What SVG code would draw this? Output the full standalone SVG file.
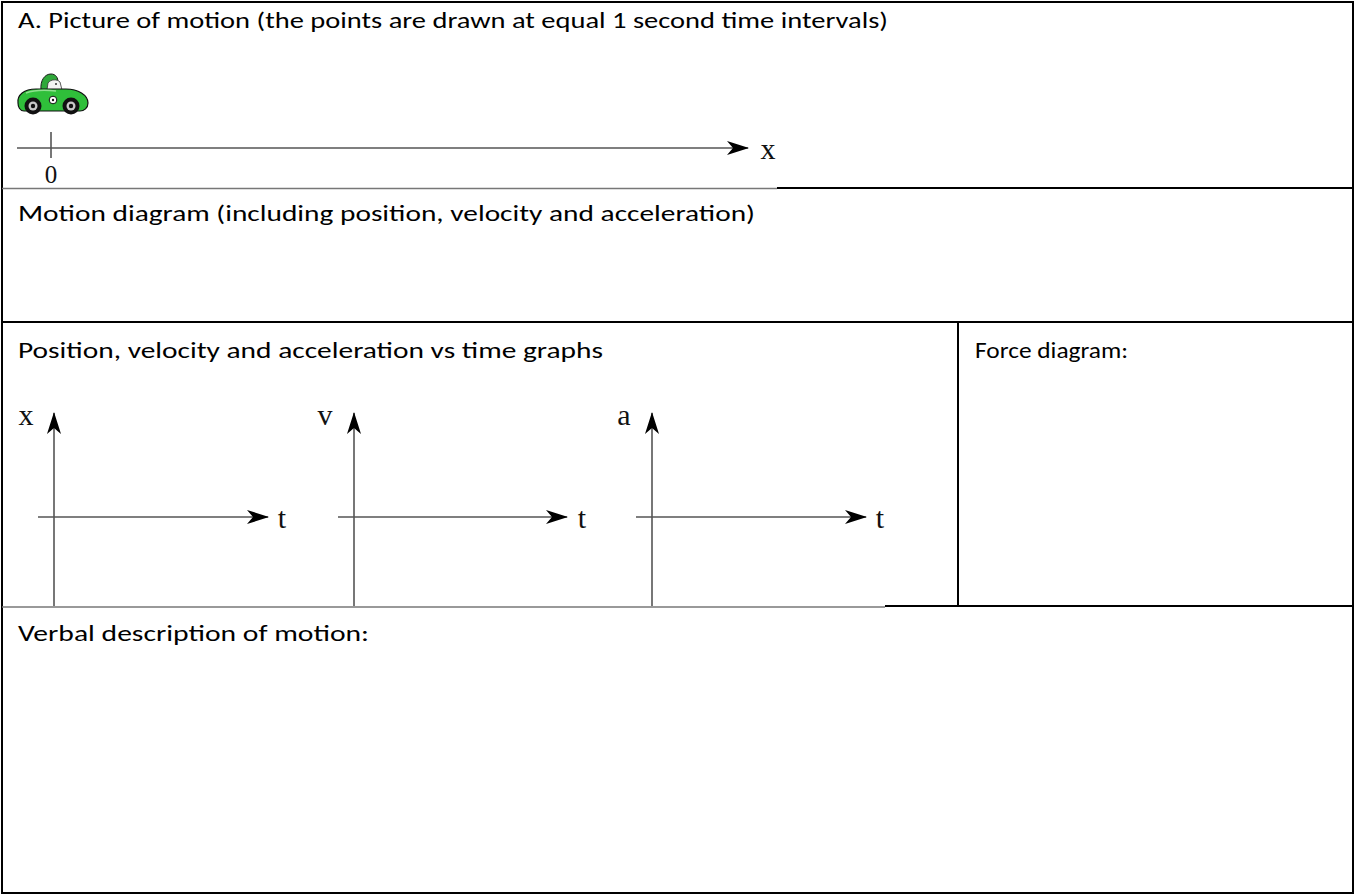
<svg xmlns="http://www.w3.org/2000/svg" width="1355" height="896" viewBox="0 0 1355 896">
  <style>
    .cap { font-family: "Carlito", "Liberation Sans", "Open Sans", sans-serif; font-size: 23px; fill: #000; }
    .ser { font-family: "Liberation Serif", "Times New Roman", serif; fill: #111; }
    .rule { stroke: #000; stroke-width: 2; fill: none; }
    .thin { stroke: #777; stroke-width: 1.3; fill: none; }
    .axis { stroke: #555; stroke-width: 1.6; fill: none; }
  </style>
  <defs>
    <marker id="head" viewBox="0 0 22 14" refX="21" refY="7" markerWidth="22" markerHeight="14" markerUnits="userSpaceOnUse" orient="auto">
      <path d="M0,0 L22,7 L0,14 L6,7 Z" fill="#000"/>
    </marker>
  </defs>

  <rect x="0" y="0" width="1355" height="896" fill="#fff"/>

  <!-- table frame and rules -->
  <g id="table">
    <rect class="rule" x="2" y="2" width="1351" height="891"/>
    <line class="thin" x1="2" y1="188.5" x2="777" y2="188.5"/>
    <line class="rule" x1="777" y1="188" x2="1353" y2="188"/>
    <line class="rule" x1="2" y1="322" x2="1353" y2="322"/>
    <line class="thin" x1="2" y1="607" x2="885" y2="607"/>
    <line class="rule" x1="885" y1="606" x2="1353" y2="606"/>
    <line class="rule" x1="958" y1="322" x2="958" y2="606"/>
  </g>

  <!-- row captions -->
  <g id="captions">
    <text class="cap" x="18" y="28" textLength="870" lengthAdjust="spacingAndGlyphs">A. Picture of motion (the points are drawn at equal 1 second time intervals)</text>
    <text class="cap" x="18" y="221" textLength="737" lengthAdjust="spacingAndGlyphs">Motion diagram (including position, velocity and acceleration)</text>
    <text class="cap" x="18" y="358" textLength="585" lengthAdjust="spacingAndGlyphs">Position, velocity and acceleration vs time graphs</text>
    <text class="cap" x="975" y="358" textLength="153" lengthAdjust="spacingAndGlyphs">Force diagram:</text>
    <text class="cap" x="18" y="641" textLength="351" lengthAdjust="spacingAndGlyphs">Verbal description of motion:</text>
  </g>

  <!-- car on the position line -->
  <g id="car">
    <!-- driver: helmet and face -->
    <path d="M41,90 C40,80 45,74 51,74 C56,74 58,78 58,82 L58,90 Z" fill="#2fa83a" stroke="#1a1a1a" stroke-width="1"/>
    <path d="M48,83 C51,79 57,79 60,82 L62,90 L47,90 Z" fill="#f2f2f2" stroke="#333" stroke-width="0.8"/>
    <circle cx="56" cy="84" r="1" fill="#333"/>
    <!-- body -->
    <path d="M18,103 C17,95 24,89 36,89 L66,89 C78,89 88,95 88,103 C88,108 84,111 80,111 L24,111 C20,111 18,107 18,103 Z" fill="#2fbf3a" stroke="#111" stroke-width="1.2"/>
    <path d="M26,93 C34,90 46,90 56,91" stroke="#8fe08f" stroke-width="1.5" fill="none"/>
    <!-- badge -->
    <circle cx="53" cy="100" r="3.8" fill="#fff" stroke="#111" stroke-width="1"/>
    <circle cx="53" cy="100" r="1.2" fill="#111"/>
    <!-- wheels -->
    <circle cx="33" cy="106" r="8.5" fill="#111"/>
    <circle cx="33" cy="106" r="4.5" fill="#c8c8c8"/>
    <circle cx="33" cy="106" r="2.2" fill="#111"/>
    <circle cx="71" cy="106" r="8.5" fill="#111"/>
    <circle cx="71" cy="106" r="4.5" fill="#c8c8c8"/>
    <circle cx="71" cy="106" r="2.2" fill="#111"/>
  </g>

  <!-- position axis -->
  <g id="x-axis">
    <line class="axis" x1="17" y1="148" x2="748" y2="148" marker-end="url(#head)"/>
    <line class="axis" x1="51" y1="132" x2="51" y2="158"/>
    <text class="ser" x="768" y="159" font-size="30" text-anchor="middle">x</text>
    <text class="ser" x="51" y="183" font-size="25" text-anchor="middle">0</text>
  </g>

  <!-- x vs t graph -->
  <g id="graph-x">
    <line class="axis" x1="54" y1="606" x2="54" y2="413" marker-end="url(#head)"/>
    <line class="axis" x1="38" y1="517" x2="268" y2="517" marker-end="url(#head)"/>
    <text class="ser" x="26" y="425" font-size="30" text-anchor="middle">x</text>
    <text class="ser" x="282" y="528" font-size="30" text-anchor="middle">t</text>
  </g>

  <!-- v vs t graph -->
  <g id="graph-v">
    <line class="axis" x1="354" y1="606" x2="354" y2="413" marker-end="url(#head)"/>
    <line class="axis" x1="338" y1="517" x2="567" y2="517" marker-end="url(#head)"/>
    <text class="ser" x="325" y="425" font-size="30" text-anchor="middle">v</text>
    <text class="ser" x="582" y="528" font-size="30" text-anchor="middle">t</text>
  </g>

  <!-- a vs t graph -->
  <g id="graph-a">
    <line class="axis" x1="652" y1="606" x2="652" y2="413" marker-end="url(#head)"/>
    <line class="axis" x1="636" y1="517" x2="866" y2="517" marker-end="url(#head)"/>
    <text class="ser" x="624" y="425" font-size="30" text-anchor="middle">a</text>
    <text class="ser" x="880" y="528" font-size="30" text-anchor="middle">t</text>
  </g>
</svg>
